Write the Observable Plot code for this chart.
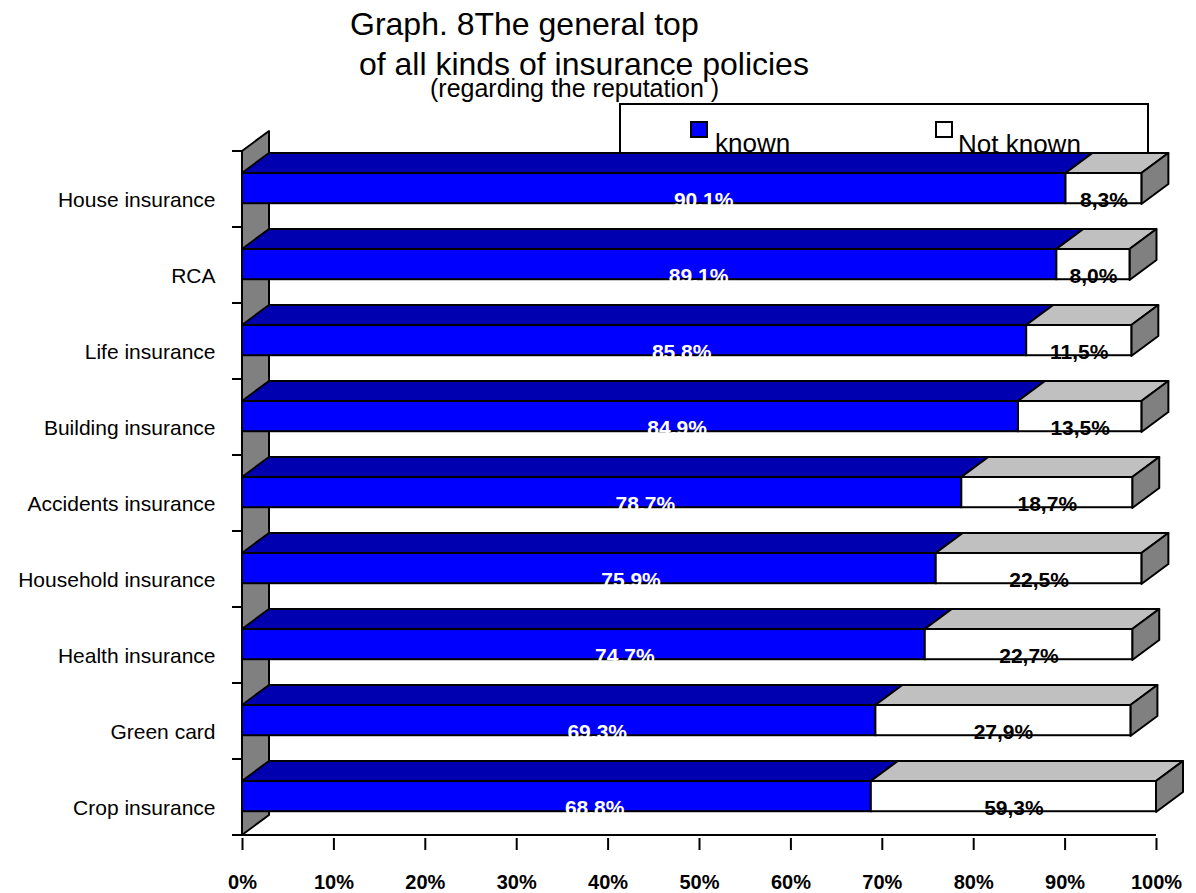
<!DOCTYPE html>
<html>
<head>
<meta charset="utf-8">
<script src="https://cdn.jsdelivr.net/npm/d3@7"></script>
<script src="https://cdn.jsdelivr.net/npm/@observablehq/plot@0.6"></script>
<style>
  body { margin: 0; background: #fff; font-family: "Liberation Sans", Arial, sans-serif; }
  #wrap { position: relative; width: 1196px; height: 893px; overflow: hidden; }
  .t { position: absolute; white-space: pre; color: #000; line-height: 1; }
  #legendBox { position: absolute; left: 619px; top: 103px; width: 530px; height: 55px; border: 2px solid #000; box-sizing: border-box; background: #fff; }
  .sw { position: absolute; width: 18px; height: 17px; border: 2px solid #000; box-sizing: border-box; }
  #chart { position: absolute; left: 0; top: 0; }
</style>
</head>
<body>
<div id="wrap">
  <div class="t" id="t1" style="left:350px; top:8px; font-size:32px;"></div>
  <div class="t" id="t2" style="left:350px; top:48px; font-size:32px;"></div>
  <div class="t" id="t3" style="left:430px; top:76px; font-size:25px;"></div>
  <div id="legendBox"></div>
  <div class="sw" id="sw0" style="left:690px; top:121px;"></div>
  <div class="t" id="lg0" style="left:715px; top:130px; font-size:26px;"></div>
  <div class="t" id="lg1" style="left:958px; top:131px; font-size:26px;"></div>
  <div class="sw" id="sw1" style="left:935px; top:121px;"></div>
  <div id="chart"></div>
</div>
<script>
// ---- data ----
const titleLines = ["Graph. 8The general top", " of all kinds of insurance policies", "(regarding the reputation )"];
const seriesNames = ["known", "Not known"];
const categories = [
  "House insurance", "RCA", "Life insurance", "Building insurance", "Accidents insurance",
  "Household insurance", "Health insurance", "Green card", "Crop insurance"
];
const known    = [90.1, 89.1, 85.8, 84.9, 78.7, 75.9, 74.7, 69.3, 68.8];
const notKnown = [8.3, 8.0, 11.5, 13.5, 18.7, 22.5, 22.7, 27.9, 59.3];
const xTicks = [0, 10, 20, 30, 40, 50, 60, 70, 80, 90, 100];

// ---- styles / layout ----
const BLUE = "#0000ff", BLUE_TOP = "#0000b0", WHITE_TOP = "#c0c0c0", SIDE = "#808080", WALL = "#808080";
const W = 1196, H = 893, MT = 147, MB = 55, ML = 242, MR = 40;
const STEP = (H - MT - MB) / categories.length;
const FACE_TOP = 22, FACE_H = 31, DX = 27, DY = 20;

document.getElementById("t1").textContent = titleLines[0];
document.getElementById("t2").textContent = titleLines[1];
document.getElementById("t3").textContent = titleLines[2];
document.getElementById("lg0").textContent = seriesNames[0];
document.getElementById("lg1").textContent = seriesNames[1];
document.getElementById("sw0").style.background = BLUE;
document.getElementById("sw1").style.background = "#fff";

const rows = categories.map((c, i) => ({
  cat: c, known: known[i], notKnown: notKnown[i],
  end: Math.min(100, known[i] + notKnown[i])
}));
const fmt = v => v.toFixed(1).replace(".", ",") + "%";
const bwOf = s => typeof s.bandwidth === "function" ? s.bandwidth() : s.bandwidth;

function wallMark(index, scales) {
  const x = scales.x, y = scales.y;
  const bw = bwOf(y);
  const x0 = x(0), yt = y(categories[0]), yb = y(categories[categories.length - 1]) + bw;
  const g = d3.create("svg:g");
  g.append("polygon")
    .attr("points", [[x0, yt], [x0 + DX, yt - DY], [x0 + DX, yb - DY], [x0, yb]].join(" "))
    .attr("fill", WALL).attr("stroke", "#000").attr("stroke-width", 2).attr("stroke-linejoin", "round");
  return g.node();
}

function depthMark(index, scales) {
  const x = scales.x, y = scales.y;
  const g = d3.create("svg:g").attr("stroke", "#000").attr("stroke-width", 2).attr("stroke-linejoin", "round");
  for (const r of rows) {
    const yt = y(r.cat) + FACE_TOP, yb = yt + FACE_H;
    const x0 = x(0), x1 = x(r.known), x2 = x(r.end);
    g.append("polygon").attr("fill", BLUE_TOP)
      .attr("points", [[x0, yt], [x1, yt], [x1 + DX, yt - DY], [x0 + DX, yt - DY]].join(" "));
    g.append("polygon").attr("fill", WHITE_TOP)
      .attr("points", [[x1, yt], [x2, yt], [x2 + DX, yt - DY], [x1 + DX, yt - DY]].join(" "));
    g.append("polygon").attr("fill", SIDE)
      .attr("points", [[x2, yt], [x2 + DX, yt - DY], [x2 + DX, yb - DY], [x2, yb]].join(" "));
  }
  return g.node();
}

function axisLines(index, scales) {
  const x = scales.x, y = scales.y;
  const bw = bwOf(y);
  const g = d3.create("svg:g").attr("stroke", "#000").attr("stroke-width", 2);
  const x0 = x(0);
  const bounds = categories.map(c => y(c)).concat([y(categories[categories.length - 1]) + bw]);
  for (const b of bounds) g.append("line").attr("x1", x0 - 10).attr("x2", x0).attr("y1", b).attr("y2", b);
  const yb = bounds[bounds.length - 1];
  g.append("line").attr("x1", x0).attr("x2", x(100)).attr("y1", yb).attr("y2", yb);
  g.append("line").attr("x1", x0).attr("x2", x0).attr("y1", bounds[0]).attr("y2", yb);
  return g.node();
}

const chart = Plot.plot({
  width: W, height: H,
  marginTop: MT, marginBottom: MB, marginLeft: ML, marginRight: MR,
  style: { background: "transparent", fontFamily: "'Liberation Sans', Arial, sans-serif", color: "#000", overflow: "visible" },
  x: { domain: [0, 100] },
  y: { type: "band", domain: categories, padding: 0 },
  marks: [
    wallMark,
    depthMark,
    Plot.barX(rows, { y: "cat", x1: d => 0, x2: "known", fill: BLUE, stroke: "#000", strokeWidth: 2,
      insetTop: FACE_TOP, insetBottom: STEP - FACE_TOP - FACE_H }),
    Plot.barX(rows, { y: "cat", x1: "known", x2: "end", fill: "#fff", stroke: "#000", strokeWidth: 2,
      insetTop: FACE_TOP, insetBottom: STEP - FACE_TOP - FACE_H }),
    Plot.text(rows, { y: "cat", x: d => d.known * 0.56, text: d => fmt(d.known), fill: "#fff",
      fontSize: 21, fontWeight: "bold", lineAnchor: "bottom", dy: FACE_TOP + FACE_H + 3 - STEP / 2 }),
    Plot.text(rows, { y: "cat", x: d => (d.known + d.end) / 2, text: d => fmt(d.notKnown), fill: "#000",
      fontSize: 21, fontWeight: "bold", lineAnchor: "bottom", dy: FACE_TOP + FACE_H + 3 - STEP / 2 }),
    Plot.axisY({ tickSize: 0, tickPadding: 27, fontSize: 21, dy: 11, label: null }),
    Plot.axisX({ ticks: xTicks, tickFormat: d => d + "%", tickSize: 12, tickPadding: 24, fontSize: 20,
      fontWeight: "bold", strokeWidth: 2, label: null }),
    axisLines
  ]
});
document.getElementById("chart").appendChild(chart);
</script>
</body>
</html>
